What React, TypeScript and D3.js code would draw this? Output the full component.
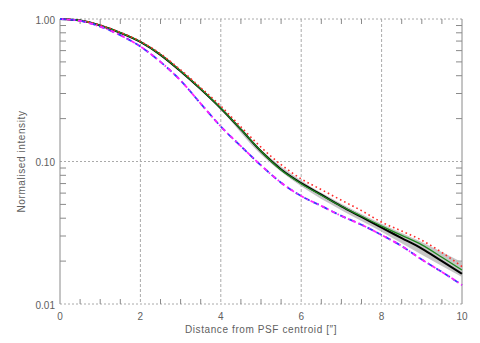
import React from "react";
import * as d3 from "d3";

const xs = [0, 0.5, 1, 1.5, 2, 2.5, 3, 3.5, 4, 4.5, 5, 5.5, 6, 6.5, 7, 7.5, 8, 8.5, 9, 9.5, 10];
const blackVals = [1.0, 0.975, 0.9, 0.8, 0.69, 0.56, 0.43, 0.322, 0.236, 0.168, 0.118, 0.088, 0.0705, 0.0585, 0.0485, 0.0408, 0.0343, 0.029, 0.0245, 0.02, 0.0163];
const greenVals = [1.0, 0.976, 0.902, 0.802, 0.692, 0.562, 0.432, 0.324, 0.237, 0.168, 0.118, 0.087, 0.0698, 0.058, 0.0485, 0.0413, 0.0352, 0.0303, 0.026, 0.0213, 0.0173];
const redVals = [1.0, 0.977, 0.905, 0.805, 0.697, 0.57, 0.44, 0.33, 0.245, 0.175, 0.126, 0.095, 0.0755, 0.0635, 0.0535, 0.0452, 0.0375, 0.0325, 0.028, 0.023, 0.0183];
const blueVals = [1.0, 0.97, 0.885, 0.77, 0.64, 0.5, 0.37, 0.255, 0.176, 0.128, 0.094, 0.071, 0.0572, 0.0488, 0.0415, 0.036, 0.0305, 0.0255, 0.0205, 0.0168, 0.0136];
const magentaVals = [1.0, 0.97, 0.885, 0.77, 0.64, 0.5, 0.37, 0.255, 0.176, 0.128, 0.094, 0.071, 0.0572, 0.0488, 0.0415, 0.036, 0.0305, 0.0255, 0.0205, 0.0168, 0.0136];

const bandX = [0, 1, 2, 3, 4, 5, 6, 7, 8, 9, 10];
const bandLow = [1.0, 0.895, 0.685, 0.425, 0.23, 0.112, 0.067, 0.0455, 0.0322, 0.0222, 0.0155];
const bandHigh = [1.0, 0.905, 0.698, 0.435, 0.242, 0.121, 0.0735, 0.0505, 0.0366, 0.0272, 0.0196];

const xTickLabels = ["0", "2", "4", "6", "8", "10"];
const yTickLabels = ["1.00", "0.10", "0.01"];
const yTickValues = [1, 0.1, 0.01];

export default function App() {
  const W = 480, H = 343;
  const L = 60, R = 462, T = 19, B = 304;
  const x = d3.scaleLinear().domain([0, 10]).range([L, R]);
  const y = d3.scaleLog().domain([0.01, 1]).range([B, T]);

  const mk = (vals: number[]) =>
    d3.line<number>().x((_, i) => x(xs[i])).y((d) => y(d)).curve(d3.curveMonotoneX)(vals) || "";
  const band =
    d3
      .area<number>()
      .x((_, i) => x(bandX[i]))
      .y0((_, i) => y(bandLow[i]))
      .y1((_, i) => y(bandHigh[i]))
      .curve(d3.curveMonotoneX)(bandX) || "";

  const minorX = d3.range(0.5, 10, 0.5).filter((v) => Math.abs(v % 2) > 1e-6);
  const minorY: number[] = [];
  for (const dec of [0.01, 0.1]) for (let k = 2; k <= 9; k++) minorY.push(dec * k);

  const axisCol = "#8a8a8a";
  const gridCol = "#aaaaaa";
  const textCol = "#606060";
  const font = "Liberation Sans, Arial, sans-serif";

  return (
    <svg width={W} height={H} style={{ position: "absolute", left: 0, top: 0, background: "#fff" }}>
      <rect width={W} height={H} fill="#fff" />
      {[2, 4, 6, 8].map((v) => (
        <line key={"gx" + v} x1={x(v)} x2={x(v)} y1={T} y2={B} stroke={gridCol} strokeWidth={1} strokeDasharray="3,2" />
      ))}
      {yTickValues.map((v) => (
        <line key={"gy" + v} x1={L} x2={R} y1={y(v)} y2={y(v)} stroke={gridCol} strokeWidth={1} strokeDasharray="2,2" />
      ))}
      <line x1={L} x2={L} y1={T} y2={B} stroke={axisCol} strokeWidth={1} />
      <line x1={R} x2={R} y1={T} y2={B} stroke={axisCol} strokeWidth={1} />
      {minorX.map((v) => (
        <g key={"mx" + v}>
          <line x1={x(v)} x2={x(v)} y1={B} y2={B - 5} stroke={axisCol} />
          <line x1={x(v)} x2={x(v)} y1={T} y2={T + 5} stroke={axisCol} />
        </g>
      ))}
      {minorY.map((v) => (
        <g key={"my" + v}>
          <line x1={L} x2={L + 6} y1={y(v)} y2={y(v)} stroke={axisCol} />
          <line x1={R} x2={R - 6} y1={y(v)} y2={y(v)} stroke={axisCol} />
        </g>
      ))}
      <path d={band} fill="#b8b8b8" opacity={0.8} />
      <path d={mk(blackVals)} fill="none" stroke="#000" strokeWidth={2} />
      <path d={mk(greenVals)} fill="none" stroke="#1f8a1f" strokeWidth={1.3} />
      <path d={mk(redVals)} fill="none" stroke="#ff2a2a" strokeWidth={1.6} strokeDasharray="1.6,3" />
      <path d={mk(blueVals)} fill="none" stroke="#3a3aff" strokeWidth={1.8} strokeDasharray="6,4" />
      <path d={mk(magentaVals)} fill="none" stroke="#ff22ff" strokeWidth={1.8} strokeDasharray="4,3,1.5,3" strokeDashoffset={5} />
      {xTickLabels.map((t) => (
        <text key={"xl" + t} x={x(+t)} y={B + 13} textAnchor="middle" dominantBaseline="middle" fontFamily={font} fontSize={10} fill={textCol}>
          {t}
        </text>
      ))}
      {yTickLabels.map((t, i) => (
        <text key={"yl" + t} x={L - 5} y={y(yTickValues[i]) + 2} textAnchor="end" dominantBaseline="middle" fontFamily={font} fontSize={10} fill={textCol}>
          {t}
        </text>
      ))}
      <text x={(L + R) / 2} y={330} textAnchor="middle" dominantBaseline="middle" fontFamily={font} fontSize={10} fill={textCol} letterSpacing={0.6}>
        Distance from PSF centroid [″]
      </text>
      <text
        transform={`translate(22,${(T + B) / 2}) rotate(-90)`}
        textAnchor="middle"
        dominantBaseline="middle"
        fontFamily={font}
        fontSize={10}
        fill={textCol}
        letterSpacing={0.6}
      >
        Normalised intensity
      </text>
    </svg>
  );
}
